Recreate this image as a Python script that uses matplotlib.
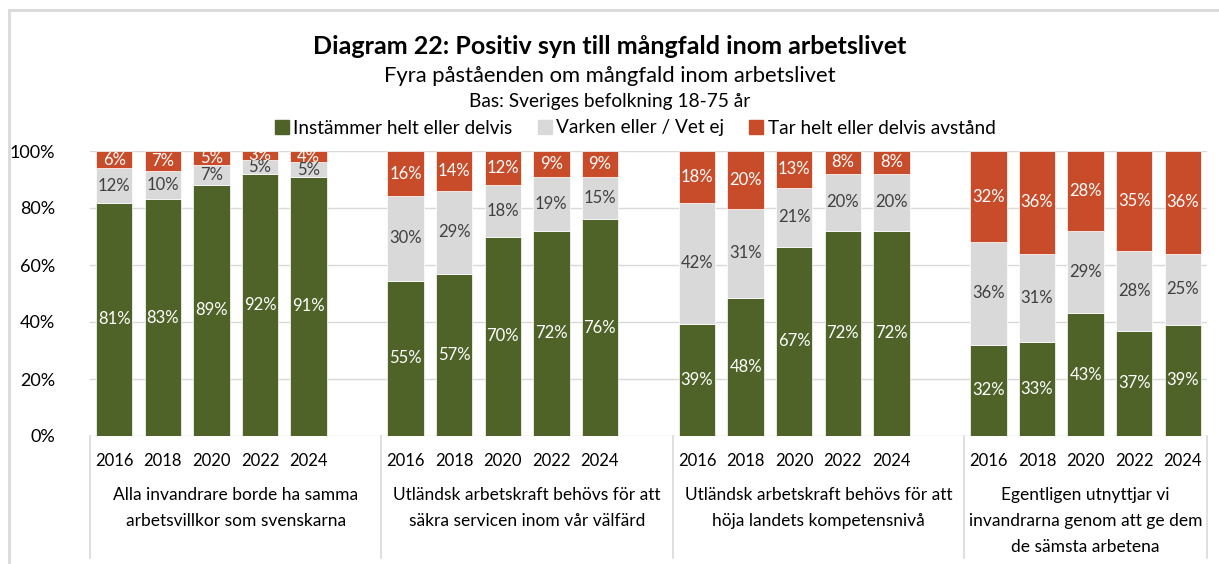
import matplotlib.pyplot as plt
from matplotlib.lines import Line2D
from matplotlib.transforms import blended_transform_factory
import numpy as np

plt.rcParams['font.family'] = ['Lato', 'DejaVu Sans']

years = ["2016", "2018", "2020", "2022", "2024"]
statements = [
    "Alla invandrare borde ha samma\narbetsvillkor som svenskarna",
    "Utländsk arbetskraft behövs för att\nsäkra servicen inom vår välfärd",
    "Utländsk arbetskraft behövs för att\nhöja landets kompetensnivå",
    "Egentligen utnyttjar vi\ninvandrarna genom att ge dem\nde sämsta arbetena",
]
instammer = [[81, 83, 89, 92, 91], [55, 57, 70, 72, 76], [39, 48, 67, 72, 72], [32, 33, 43, 37, 39]]
varken = [[12, 10, 7, 5, 5], [30, 29, 18, 19, 15], [42, 31, 21, 20, 20], [36, 31, 29, 28, 25]]
avstand = [[6, 7, 5, 3, 4], [16, 14, 12, 9, 9], [18, 20, 13, 8, 8], [32, 36, 28, 35, 36]]

serier = ["Instämmer helt eller delvis", "Varken eller / Vet ej", "Tar helt eller delvis avstånd"]
farger = ["#4f6228", "#d9d9d9", "#c84c2a"]
textfarger = ["white", "#404040", "white"]

fig = plt.figure(figsize=(12.19, 5.64), dpi=100)
ax = fig.add_axes([90 / 1219, 1 - 436 / 564, (1207 - 90) / 1219, 285 / 564])

# ram runt diagrammet (vänster och topp)
fig.add_artist(Line2D([9 / 1219, 9 / 1219], [0, 1 - 10 / 564], color="#d9d9d9", lw=2))
fig.add_artist(Line2D([9 / 1219, 1], [1 - 10 / 564, 1 - 10 / 564], color="#d9d9d9", lw=2))

for g in range(4):
    data = np.array([instammer[g], varken[g], avstand[g]], dtype=float)
    summa = data.sum(axis=0)
    andel = data / summa * 100
    x = np.arange(5) + g * 6
    botten = np.zeros(5)
    for s in range(3):
        ax.bar(x, andel[s], bottom=botten, width=0.75, color=farger[s],
               edgecolor="white", linewidth=0.5, zorder=3)
        for i in range(5):
            ax.text(x[i], botten[i] + andel[s][i] / 2, f"{int(data[s][i])}%",
                    ha="center", va="center", fontsize=12, color=textfarger[s], zorder=4)
        botten += andel[s]

ax.set_xlim(-0.5, 22.5)
ax.set_ylim(0, 100)
ax.set_yticks(range(0, 101, 20))
ax.set_yticklabels([f"{v}%" for v in range(0, 101, 20)], fontsize=13)
ax.tick_params(axis="y", length=0, pad=25)
ax.set_xticks([])
ax.grid(axis="y", color="#d9d9d9", linewidth=1, zorder=0)
for sp in ax.spines.values():
    sp.set_visible(False)

trans = blended_transform_factory(ax.transData, ax.transAxes)
for g in range(4):
    for i in range(5):
        ax.text(g * 6 + i, -25 / 285, years[i], transform=trans, ha="center", va="center",
                fontsize=12, color="black")
    start = g * 6 - 0.5
    slut = 22.5 if g == 3 else g * 6 + 5.5
    ax.text((start + slut) / 2, -51 / 285, statements[g], transform=trans, ha="center",
            va="top", fontsize=12.5, linespacing=1.75, color="black")
for xs in [-0.5, 5.5, 11.5, 17.5, 22.5]:
    ax.plot([xs, xs], [0, -122 / 285], transform=trans, color="#d9d9d9", lw=1.2, clip_on=False)

fig.text(0.5, 1 - 47 / 564, "Diagram 22: Positiv syn till mångfald inom arbetslivet",
         ha="center", va="center", fontsize=18, fontweight="bold")
fig.text(0.5, 1 - 76 / 564, "Fyra påståenden om mångfald inom arbetslivet",
         ha="center", va="center", fontsize=15.8)
fig.text(0.5, 1 - 102 / 564, "Bas: Sveriges befolkning 18-75 år",
         ha="center", va="center", fontsize=13.8)

handtag = [Line2D([], [], marker="s", linestyle="none", markersize=10, color=f) for f in farger]
fig.legend(handtag, serier, loc="center", bbox_to_anchor=(0.52, 1 - 128 / 564), ncol=3,
           frameon=False, fontsize=13.7, handletextpad=0.1, columnspacing=1.2, handlelength=1.0)

fig.savefig("out.png", dpi=100)
